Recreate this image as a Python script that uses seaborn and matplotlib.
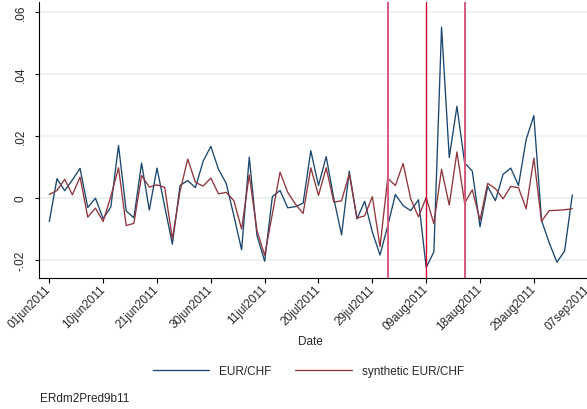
import numpy as np
import pandas as pd
import matplotlib
matplotlib.use("Agg")
import matplotlib.pyplot as plt
from matplotlib.lines import Line2D
import seaborn as sns

# Daily log changes, one value per business day starting 01jun2011
eur_chf = [
    -0.0076, 0.0062, 0.0023, 0.0058, 0.0095, -0.0031, -0.0001, -0.0067, -0.0029, 0.0169,
    -0.0042, -0.0064, 0.0112, -0.0039, 0.0096, -0.0027, -0.0149, 0.0040, 0.0056, 0.0033,
    0.0118, 0.0166, 0.0092, 0.0047, -0.0058, -0.0167, 0.0131, -0.0121, -0.0204, 0.0004,
    0.0024, -0.0032, -0.0028, -0.0017, 0.0152, 0.0040, 0.0133, -0.0003, -0.0119, 0.0086,
    -0.0068, -0.0011, -0.0110, -0.0184, -0.0090, 0.0011, -0.0025, -0.0041, -0.0006, -0.0224,
    -0.0174, 0.0550, 0.0130, 0.0295, 0.0113, 0.0086, -0.0093, 0.0037, -0.0009, 0.0076,
    0.0096, 0.0040, 0.0188, 0.0265, -0.0073, -0.0145, -0.0207, -0.0171, 0.0010,
]
synthetic = [
    0.0011, 0.0024, 0.0060, 0.0010, 0.0067, -0.0062, -0.0033, -0.0076, 0.0005, 0.0097,
    -0.0089, -0.0082, 0.0072, 0.0035, 0.0042, 0.0034, -0.0132, 0.0022, 0.0125, 0.0050,
    0.0038, 0.0064, 0.0013, 0.0018, -0.0009, -0.0100, 0.0074, -0.0105, -0.0185, -0.0052,
    0.0083, 0.0018, -0.0020, -0.0050, 0.0097, 0.0008, 0.0097, -0.0014, -0.0009, 0.0077,
    -0.0065, -0.0058, 0.0004, -0.0157, 0.0063, 0.0040, 0.0111, -0.0004, -0.0061, 0.0001,
    -0.0083, 0.0092, -0.0023, 0.0148, -0.0017, 0.0026, -0.0071, 0.0047, 0.0030, -0.0003,
    0.0037, 0.0033, -0.0035, 0.0128, -0.0075, -0.0041, -0.0040, -0.0038, -0.0035,
]
series_names = ["EUR/CHF", "synthetic EUR/CHF"]
start_date = "2011-06-01"
tick_step = 7
n_ticks = 11
event_dates = ["2011-08-02", "2011-08-09", "2011-08-16"]
y_ticks = [-0.02, 0.0, 0.02, 0.04, 0.06]
y_tick_labels = ["-.02", "0", ".02", ".04", ".06"]
note = "ERdm2Pred9b11"

sns.set_style("white")
plt.rcParams["font.family"] = ["Liberation Sans", "DejaVu Sans"]

days = pd.bdate_range(start_date, periods=tick_step * (n_ticks - 1) + 1)
n = len(eur_chf)
df = pd.DataFrame({
    "t": np.r_[np.arange(n), np.arange(n)],
    "value": eur_chf + synthetic,
    "series": [series_names[0]] * n + [series_names[1]] * n,
})

navy = "#1a476f"
maroon = "#90353b"
palette = {series_names[0]: navy, series_names[1]: maroon}

W, H = 587, 410
fig = plt.figure(figsize=(W / 100, H / 100), dpi=100)
left_px, right_px, top_px, bottom_px = 39.3, 600, 3, 279
ax = fig.add_axes([left_px / W, (H - bottom_px) / H,
                   (right_px - left_px) / W, (bottom_px - top_px) / H])

ax.set_axisbelow(True)
ax.yaxis.grid(True, color="#e7eeee", linewidth=1.1)
ax.xaxis.grid(False)

sns.lineplot(data=df, x="t", y="value", hue="series", palette=palette,
             linewidth=0.95, ax=ax, legend=False)

# event markers
outer_col = "#d9587b"
inner_col = "#d6002c"
for k, d in enumerate(event_dates):
    pos = days.get_loc(pd.Timestamp(d))
    if k == 1:
        ax.axvline(pos, color=inner_col, linewidth=1.0, zorder=3)
    else:
        ax.axvline(pos, color=outer_col, linewidth=1.4, zorder=3)

ax.set_xlim(-1.3, 71.6)
ax.set_ylim(-0.0258, 0.0631)

tick_pos = np.arange(0, len(days), tick_step)
ax.set_xticks(tick_pos)
ax.set_xticklabels([days[i].strftime("%d%b%Y").lower() for i in tick_pos],
                   rotation=45, ha="right", va="center", rotation_mode="anchor",
                   fontsize=8.5)
ax.set_yticks(y_ticks)
ax.set_yticklabels(y_tick_labels, rotation=90, va="center", fontsize=8.5)

ax.tick_params(axis="x", direction="out", length=3.5, width=0.8, color="black",
               pad=3, bottom=True)
ax.tick_params(axis="y", direction="out", length=3.1, width=0.8, color="black",
               pad=6, left=True)

for side in ["top", "right"]:
    ax.spines[side].set_visible(False)
for side in ["left", "bottom"]:
    ax.spines[side].set_color("black")
    ax.spines[side].set_linewidth(0.8)

ax.set_xlabel("")
ax.set_ylabel("")

fig.text(310.5 / W, (H - 341.7) / H, "Date", ha="center", va="center", fontsize=8.5)

handles = [Line2D([0], [0], color=navy, linewidth=0.95),
           Line2D([0], [0], color=maroon, linewidth=0.95)]
fig.legend(handles, series_names, loc="center",
           bbox_to_anchor=(308.5 / W, (H - 371.7) / H), ncol=2, frameon=False,
           handlelength=4.75, handletextpad=0.85, columnspacing=2.0, fontsize=8.5)

fig.text(40 / W, (H - 399) / H, note, ha="left", va="center", fontsize=8.5)

fig.savefig("out.png", dpi=100, facecolor="white")
